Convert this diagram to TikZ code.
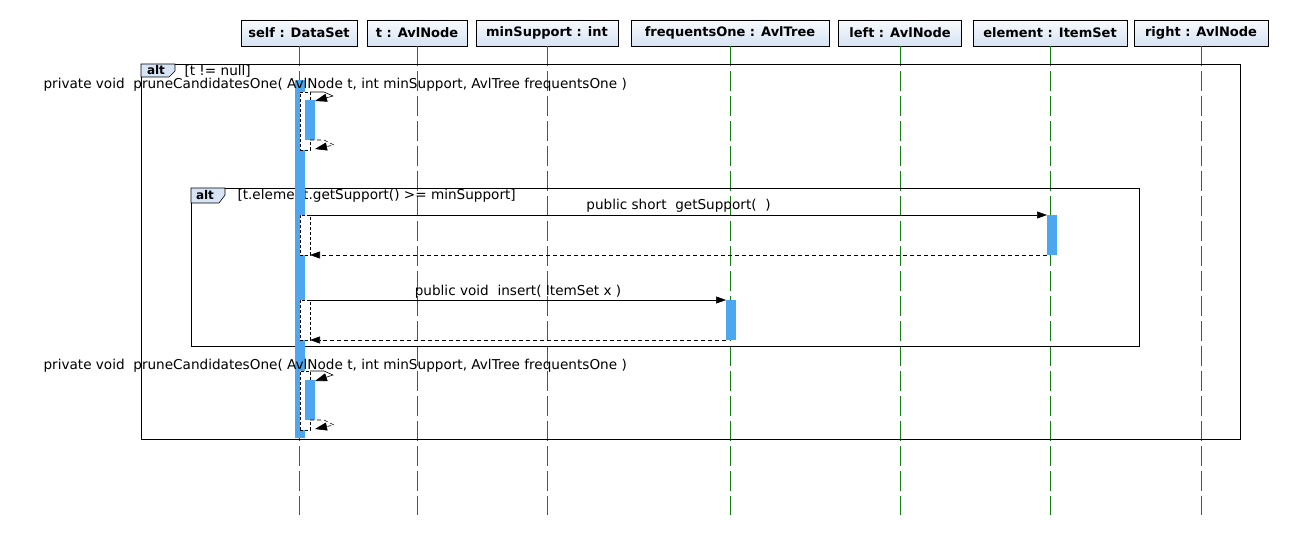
\documentclass[tikz,border=0pt]{standalone}
\usepackage{fontspec}
\setsansfont{DejaVu Sans}
\usetikzlibrary{arrows.meta}
\definecolor{cor_barra}{RGB}{77,166,240}
\definecolor{cor_topo}{RGB}{248,250,253}
\definecolor{cor_base}{RGB}{214,227,243}
\definecolor{cor_aba}{RGB}{214,228,246}
\definecolor{cor_vida}{RGB}{20,125,20}

\begin{document}
\begin{tikzpicture}[x=1pt,y=-1pt,font=\sffamily\fontsize{13.6}{15}\selectfont]
        \tikzset{
            cab/.style={
                draw,
                line width=0.8pt,
                top color=cor_topo,
                bottom color=cor_base,
                minimum width=#1,
                minimum height=26,
                inner sep=0,
                font=\sffamily\bfseries\fontsize{13}{15}\selectfont
            },
            vida/.style={cor_vida, line width=0.8pt, dash pattern=on 20pt off 5pt},
            quadro/.style={draw, line width=0.8pt, anchor=north west, inner sep=0, outer sep=0},
            barra/.style={fill=cor_barra, anchor=north west, inner sep=0, outer sep=0, minimum width=10, minimum height=#1},
            caixa/.style={draw, fill=white, dash pattern=on 3pt off 2pt, line width=0.6pt, anchor=north west, inner sep=0, outer sep=0, minimum width=10, minimum height=#1},
            msg/.style={line width=0.6pt, -{Triangle[length=10pt,width=7pt]}},
            volta/.style={msg, dash pattern=on 4pt off 3pt},
            auto/.style={line width=0.6pt, -{Triangle[length=12pt,width=8pt]}},
            aba/.style={font=\sffamily\bfseries\fontsize{12}{13}\selectfont}
        }
        \useasboundingbox (0,0) rectangle (1290,540);

        %cabecalhos
        \node[cab=116] (self) at (299,33) {self : DataSet};
        \node[cab=100] (t) at (417,33) {t : AvlNode};
        \node[cab=142] (minSup) at (547,33) {minSupport : int};
        \node[cab=198] (freq) at (730,33) {frequentsOne : AvlTree};
        \node[cab=123] (left) at (900,33) {left : AvlNode};
        \node[cab=154] (elem) at (1050,33) {element : ItemSet};
        \node[cab=134] (right) at (1201,33) {right : AvlNode};

        %linhas de vida
        \foreach \n in {self,t,minSup,freq,left,elem,right}
            \draw[vida] (\n.south) -- ++(0,469);

        %quadros alt
        \node[quadro, minimum width=1099, minimum height=375] (alt1) at (141,64) {};
        \draw[fill=cor_aba, line width=0.6pt] (alt1.north west) -- ++(34,0) -- ++(0,7) -- ++(-6,6) -- ++(-28,0) -- cycle;
        \node[aba] (aba1) at (156,70.5) {alt};
        \node[anchor=base west] (guarda1) at (181,76) {[t != null]};

        \node[quadro, minimum width=948, minimum height=158] (alt2) at (191,188) {};
        \draw[fill=cor_aba, line width=0.6pt] (alt2.north west) -- ++(34,0) -- ++(0,7) -- ++(-6,8) -- ++(-28,0) -- cycle;
        \node[aba] (aba2) at (205,195.5) {alt};
        \node[anchor=base west] (guarda2) at (234,200) {[t.element.getSupport() >= minSupport]};

        %barra principal
        \node[barra=358] (b0) at (295,80) {};

        %pruneCandidatesOne 1
        \node[anchor=base west] (rotulo1) at (40,89) {private void\ \ pruneCandidatesOne( AvlNode t, int minSupport, AvlTree frequentsOne )};
        \node[caixa=58] (c1) at (300,92) {};
        \node[barra=40] (b1) at (305,100) {};
        \draw[auto] (c1.north east) -- ++(14,0) -- ++(9,4) -- ([yshift=-1pt]b1.north east);
        \draw[auto, dash pattern=on 4pt off 3pt] ([xshift=-5pt]b1.south east) -- ++(14,0) -- ++(10,5) -- ([xshift=5pt,yshift=1pt]c1.south east);

        %getSupport
        \node[caixa=40] (c2) at (300,215) {};
        \node[barra=40] (b2) at (1047,215) {};
        \draw[msg] (c2.north east) -- (b2.north west) node[midway, anchor=base, yshift=5pt] {public short\ \ getSupport(\ \ )};
        \draw[volta] (b2.south west) -- (c2.south east);

        %insert
        \node[caixa=40] (c3) at (300,300) {};
        \node[barra=40] (b3) at (726,300) {};
        \draw[msg] (c3.north east) -- (b3.north west) node[midway, anchor=base, yshift=5pt] {public void\ \ insert( ItemSet x )};
        \draw[volta] (b3.south west) -- (c3.south east);

        %pruneCandidatesOne 2
        \node[anchor=base west] (rotulo2) at (40,369) {private void\ \ pruneCandidatesOne( AvlNode t, int minSupport, AvlTree frequentsOne )};
        \node[caixa=59] (c4) at (300,371) {};
        \node[barra=40] (b4) at (305,380) {};
        \draw[auto] (c4.north east) -- ++(14,0) -- ++(9,4) -- ([yshift=-1pt]b4.north east);
        \draw[auto, dash pattern=on 4pt off 3pt] ([xshift=-5pt]b4.south east) -- ++(14,0) -- ++(10,5) -- ([xshift=5pt,yshift=1pt]c4.south east);

    \end{tikzpicture}
\end{document}
